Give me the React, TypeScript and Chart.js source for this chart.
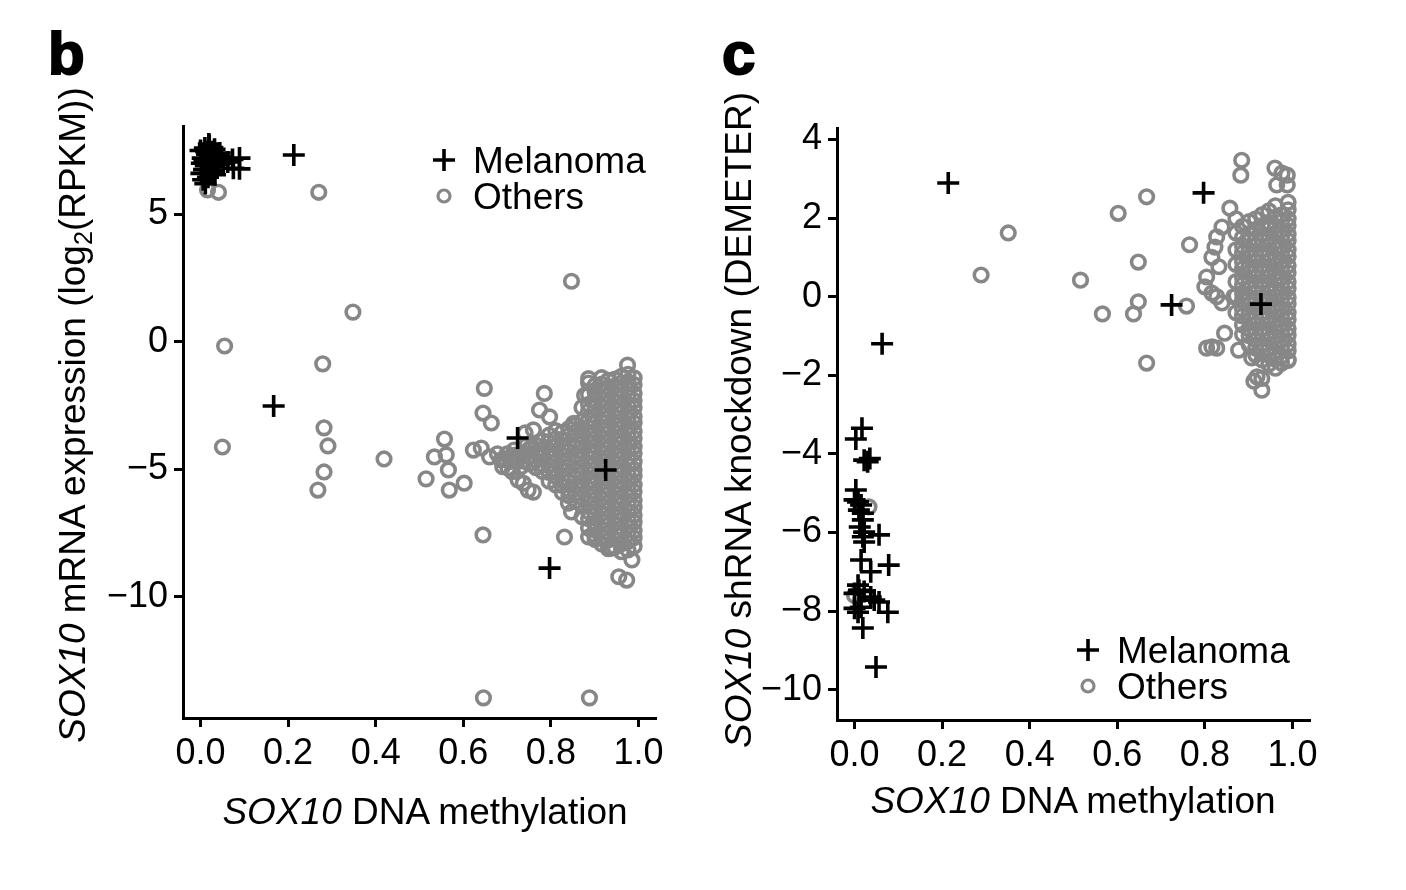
import React, { useEffect, useRef } from 'react';
import { Chart, registerables } from 'chart.js';

Chart.register(...registerables);

const FONT = '"Liberation Sans", Arial, Helvetica, sans-serif';
const BLACK = '#000000';
const GREY = '#878787';

// ---------- shared axis / legend data ----------
const seriesNames = ['Melanoma', 'Others'];
const xTicks = [0, 0.2, 0.4, 0.6, 0.8, 1.0];
const yTicksB = [5, 0, -5, -10];
const yTicksC = [4, 2, 0, -2, -4, -6, -8, -10];
const xRange = [-0.04, 1.04];
const yRangeB = [-14.76, 8.46];
const yRangeC = [-10.77, 4.29];

// ---------- panel b : SOX10 methylation vs mRNA expression ----------
const melanomaB: [number, number][] = [
  [0.000, 7.50], [0.005, 7.20], [0.010, 7.60], [0.012, 6.90], [0.015, 7.35], [0.018, 7.05],
  [0.020, 7.70], [0.022, 6.60], [0.008, 6.75], [0.003, 7.00], [0.025, 7.45], [0.028, 7.15],
  [0.030, 6.85], [0.032, 7.55], [0.035, 7.30], [0.038, 7.00], [0.013, 7.45], [0.017, 6.45],
  [0.006, 6.35], [0.011, 6.20], [0.027, 6.70], [0.040, 7.20], [0.044, 7.40], [0.042, 6.95],
  [0.023, 7.25], [0.019, 7.75], [0.002, 6.60], [0.033, 6.55], [0.009, 7.10], [0.016, 6.95],
  [0.048, 7.25], [0.052, 7.00], [0.062, 7.05], [0.073, 7.15], [0.089, 7.20], [0.089, 6.78],
  [0.075, 6.80],
  [0.213, 7.32], [0.167, -2.52], [0.724, -3.78], [0.925, -5.03], [0.797, -8.88],
];

const othersB: [number, number][] = [
  [0.016, 5.95], [0.041, 5.86], [0.270, 5.86], [0.847, 2.37], [0.348, 1.16], [0.055, -0.17],
  [0.050, -4.13], [0.279, -0.87], [0.282, -3.38], [0.291, -4.09], [0.282, -5.11], [0.268, -5.82],
  [0.419, -4.60], [0.515, -5.38], [0.534, -4.52], [0.557, -3.82], [0.561, -4.44], [0.566, -5.03],
  [0.602, -5.55], [0.568, -5.82], [0.648, -1.83], [0.645, -2.80], [0.664, -3.19], [0.785, -2.03],
  [0.774, -2.68], [0.797, -2.95], [0.760, -3.46], [0.623, -4.25], [0.641, -4.17], [0.660, -4.52],
  [0.686, -4.64], [0.702, -4.95], [0.716, -4.25], [0.725, -5.42], [0.737, -5.55], [0.748, -5.82],
  [0.760, -5.90], [0.741, -3.58], [0.757, -4.13], [0.769, -4.37], [0.700, -4.40], [0.690, -4.90],
  [0.712, -5.10], [0.745, -4.05], [0.645, -7.58], [0.831, -7.66], [0.847, -6.68], [0.840, -6.33],
  [0.886, -7.66], [0.900, -7.58], [0.938, -8.10], [0.985, -8.56], [0.955, -9.22], [0.973, -9.35],
  [0.646, -13.97], [0.888, -13.97], [0.975, -0.92], [0.886, -1.45], [0.877, -2.10], [0.852, -3.20],
  [0.728, -4.55], [0.708, -4.70], [0.695, -4.62], [0.678, -4.40], [0.732, -4.90], [0.718, -4.45],
];

// the dense grey mass of panel b, listed column by column: [methylation, expression values]
const othersBMass: [number, number[]][] = [
  [0.990, [-1.42, -1.68, -2.03, -2.31, -2.58, -2.93, -3.18, -3.52, -3.79, -4.12, -4.38, -4.71, -5.02, -5.27, -5.61, -5.88, -6.22, -6.49, -6.81, -7.08, -7.42, -7.69, -8.02]],
  [0.976, [-1.28, -1.57, -1.83, -2.16, -2.44, -2.77, -3.04, -3.36, -3.63, -3.97, -4.24, -4.56, -4.83, -5.16, -5.44, -5.77, -6.03, -6.36, -6.64, -6.97, -7.24, -7.56, -7.83, -8.17]],
  [0.961, [-1.36, -1.62, -1.91, -2.19, -2.52, -2.79, -3.11, -3.38, -3.72, -3.99, -4.31, -4.58, -4.92, -5.19, -5.51, -5.78, -6.12, -6.39, -6.71, -6.98, -7.31, -7.58, -7.92, -8.24]],
  [0.946, [-1.47, -1.73, -2.06, -2.33, -2.67, -2.94, -3.26, -3.53, -3.87, -4.14, -4.46, -4.73, -5.07, -5.34, -5.66, -5.93, -6.27, -6.54, -6.86, -7.13, -7.47, -7.74, -8.06]],
  [0.931, [-1.52, -1.79, -2.12, -2.39, -2.71, -2.98, -3.32, -3.59, -3.91, -4.18, -4.52, -4.79, -5.11, -5.38, -5.72, -5.99, -6.31, -6.58, -6.92, -7.19, -7.51, -7.78, -8.12]],
  [0.916, [-1.41, -1.66, -1.94, -2.27, -2.54, -2.86, -3.13, -3.47, -3.74, -4.06, -4.33, -4.67, -4.94, -5.26, -5.53, -5.87, -6.14, -6.46, -6.73, -7.07, -7.34, -7.66, -7.93]],
  [0.901, [-1.71, -1.98, -2.32, -2.59, -2.91, -3.18, -3.52, -3.79, -4.11, -4.38, -4.72, -4.99, -5.31, -5.58, -5.92, -6.19, -6.51, -6.78, -7.12, -7.39, -7.76]],
  [0.886, [-1.62, -2.08, -2.46, -2.73, -3.07, -3.34, -3.66, -3.93, -4.27, -4.54, -4.86, -5.13, -5.47, -5.74, -6.06, -6.33, -6.67, -6.94, -7.31]],
  [0.871, [-2.58, -3.12, -3.39, -3.72, -3.98, -4.32, -4.59, -4.91, -5.18, -5.52, -5.79, -6.11, -6.44, -6.86]],
  [0.856, [-3.27, -3.54, -3.87, -4.13, -4.47, -4.74, -5.06, -5.33, -5.67, -5.94, -6.26]],
  [0.841, [-3.41, -3.68, -4.02, -4.29, -4.61, -4.88, -5.22, -5.49, -5.81, -6.04]],
  [0.826, [-3.56, -3.83, -4.17, -4.44, -4.76, -5.03, -5.37, -5.64, -5.91]],
  [0.811, [-3.49, -3.81, -4.08, -4.42, -4.69, -5.01, -5.28, -5.62]],
  [0.796, [-3.66, -3.93, -4.27, -4.54, -4.86, -5.13, -5.47]],
  [0.781, [-3.89, -4.22, -4.49, -4.82, -5.09]],
  [0.766, [-4.06, -4.33, -4.66, -4.94]],
  [0.751, [-4.21, -4.52, -4.79]],
  [0.736, [-4.36, -4.68]],
  [0.721, [-4.51]],
];

// ---------- panel c : SOX10 methylation vs shRNA knockdown ----------
const melanomaC: [number, number][] = [
  [0.214, 2.89], [0.797, 2.64], [0.724, -0.21], [0.928, -0.19], [0.063, -1.20],
  [0.017, -3.35], [0.003, -3.62], [0.022, -4.16], [0.030, -4.20], [0.035, -4.12],
  [0.003, -4.92], [0.000, -5.17], [0.008, -5.22], [0.015, -5.30], [0.010, -5.43],
  [0.019, -5.51], [0.019, -5.68], [0.012, -5.86], [0.022, -5.99], [0.019, -6.11],
  [0.056, -6.06], [0.022, -6.24], [0.015, -6.70], [0.078, -6.83], [0.037, -7.00],
  [0.008, -7.34], [0.010, -7.47], [0.000, -7.55], [0.022, -7.50], [0.037, -7.64],
  [0.045, -7.72], [0.056, -7.77], [0.000, -7.93], [0.008, -8.03], [0.015, -7.90],
  [0.076, -8.03], [0.019, -8.43], [0.049, -9.42],
];

const othersC: [number, number][] = [
  [0.033, -5.35], [0.000, -7.60], [0.289, 0.55], [0.351, 1.62], [0.516, 0.42], [0.566, -0.44],
  [0.602, 2.12], [0.667, 2.54], [0.648, 0.88], [0.648, -0.13], [0.637, -0.44], [0.667, -1.69],
  [0.765, 1.32], [0.758, -0.24], [0.884, 3.47], [0.882, 3.09], [0.960, 3.27], [0.976, 3.14],
  [0.988, 3.09], [0.964, 2.84], [0.988, 2.84], [0.990, 2.40], [0.857, 2.25], [0.839, 1.77],
  [0.827, 1.52], [0.823, 1.26], [0.816, 1.00], [0.832, 0.76], [0.804, 0.50], [0.800, 0.25],
  [0.816, 0.09], [0.827, 0.00], [0.839, -0.16], [0.866, 0.00], [0.845, -0.93], [0.816, -1.28],
  [0.804, -1.31], [0.827, -1.31], [0.877, -1.36], [0.907, -1.56], [0.990, -1.61], [0.919, -2.04],
  [0.930, -2.08], [0.930, -2.38], [0.912, -2.15],
];

// the dense grey mass of panel c, column by column: [methylation, knockdown values]
const othersCMass: [number, number[]][] = [
  [0.990, [2.21, 1.98, 1.81, 1.59, 1.42, 1.19, 1.02, 0.79, 0.61, 0.38, 0.21, -0.02, -0.19, -0.41, -0.58, -0.81, -0.98, -1.21, -1.38, -1.62]],
  [0.975, [2.08, 1.91, 1.69, 1.52, 1.28, 1.11, 0.89, 0.72, 0.48, 0.31, 0.09, -0.08, -0.31, -0.48, -0.71, -0.88, -1.11, -1.28, -1.52, -1.69]],
  [0.961, [2.31, 2.02, 1.79, 1.61, 1.39, 1.22, 0.98, 0.81, 0.59, 0.42, 0.18, 0.01, -0.22, -0.39, -0.62, -0.79, -1.02, -1.19, -1.42, -1.59, -1.82]],
  [0.946, [2.18, 1.89, 1.72, 1.49, 1.32, 1.08, 0.91, 0.68, 0.51, 0.29, 0.12, -0.11, -0.28, -0.52, -0.69, -0.92, -1.09, -1.32, -1.49, -1.72]],
  [0.931, [2.09, 1.81, 1.58, 1.41, 1.18, 1.01, 0.78, 0.61, 0.38, 0.21, -0.02, -0.19, -0.42, -0.59, -0.82, -0.99, -1.22, -1.39, -1.61]],
  [0.916, [1.98, 1.71, 1.48, 1.31, 1.08, 0.91, 0.68, 0.51, 0.28, 0.11, -0.12, -0.29, -0.52, -0.69, -0.92, -1.09, -1.31, -1.48]],
  [0.901, [1.91, 1.59, 1.41, 1.18, 1.01, 0.78, 0.61, 0.38, 0.21, -0.02, -0.19, -0.42, -0.59, -0.82, -0.99, -1.22]],
  [0.886, [1.79, 1.51, 1.28, 1.11, 0.88, 0.71, 0.48, 0.31, 0.08, -0.09, -0.32, -0.49, -0.72, -0.96]],
  [0.871, [1.98, 1.62, 1.19, 0.82, 0.38, 0.02, -0.41]],
];

type Pair = [number, number];
const toPoints = (pairs: Pair[]) => pairs.map(([x, y]) => ({ x, y }));
const massToPoints = (cols: [number, number[]][]) =>
  cols.flatMap(([x, ys]) => ys.map((y) => ({ x, y })));

const CANVAS_W = 703;
const CANVAS_H = 890;

type Area = { left: number; right: number; top: number; bottom: number };

interface PanelProps {
  offsetLeft: number;
  area: Area;
  melanoma: Pair[];
  others: Pair[];
  mass: [number, number[]][];
  yRange: number[];
  yTicks: number[];
  legendAt: [number, number];
}

const fmtY = (v: number) => (v < 0 ? '\u2212' + Math.abs(v) : String(v));

const CROSS_R = 11;
const CROSS_W = 3.6;
const RING_R = 6.8;
const RING_W = 3.6;

function ScatterPanel({ offsetLeft, area, melanoma, others, mass, yRange, yTicks, legendAt }: PanelProps) {
  const ref = useRef<HTMLCanvasElement | null>(null);

  useEffect(() => {
    if (!ref.current) return;
    const [lx, ly] = legendAt;
    const legendPlugin = {
      id: 'panelLegend',
      afterDraw(chart: any) {
        const ctx = chart.ctx as CanvasRenderingContext2D;
        ctx.save();
        ctx.strokeStyle = BLACK;
        ctx.lineWidth = CROSS_W;
        ctx.beginPath();
        ctx.moveTo(lx - CROSS_R, ly);
        ctx.lineTo(lx + CROSS_R, ly);
        ctx.moveTo(lx, ly - CROSS_R);
        ctx.lineTo(lx, ly + CROSS_R);
        ctx.stroke();
        ctx.strokeStyle = GREY;
        ctx.lineWidth = 3.2;
        ctx.beginPath();
        ctx.arc(lx, ly + 36, 6, 0, Math.PI * 2);
        ctx.stroke();
        ctx.fillStyle = BLACK;
        ctx.font = `37px ${FONT}`;
        ctx.textAlign = 'left';
        ctx.textBaseline = 'alphabetic';
        ctx.fillText(seriesNames[0], lx + 29, ly + 13);
        ctx.fillText(seriesNames[1], lx + 29, ly + 49);
        ctx.restore();
      },
    };

    const tickFont = { family: FONT, size: 36 };
    const chart = new Chart(ref.current, {
      type: 'scatter',
      data: {
        datasets: [
          {
            label: seriesNames[0],
            data: toPoints(melanoma),
            pointStyle: 'cross',
            pointRadius: CROSS_R,
            pointHoverRadius: CROSS_R,
            pointBorderWidth: CROSS_W,
            borderColor: BLACK,
            backgroundColor: BLACK,
          },
          {
            label: seriesNames[1],
            data: [...massToPoints(mass), ...toPoints(others)],
            pointStyle: 'circle',
            pointRadius: RING_R,
            pointHoverRadius: RING_R,
            pointBorderWidth: RING_W,
            borderColor: GREY,
            backgroundColor: 'rgba(0,0,0,0)',
          },
        ],
      },
      options: {
        animation: false,
        responsive: true,
        maintainAspectRatio: false,
        events: [],
        layout: { padding: { left: 0, top: area.top, right: CANVAS_W - area.right, bottom: 0 } },
        plugins: { legend: { display: false }, tooltip: { enabled: false } },
        scales: {
          x: {
            type: 'linear',
            min: xRange[0],
            max: xRange[1],
            afterBuildTicks: (s: any) => {
              s.ticks = xTicks.map((v) => ({ value: v }));
            },
            afterFit: (s: any) => {
              s.height = CANVAS_H - area.bottom;
            },
            border: { display: true, color: BLACK, width: 3 },
            grid: { display: true, drawOnChartArea: false, drawTicks: true, tickLength: 9, tickWidth: 3, tickColor: BLACK },
            ticks: {
              color: BLACK,
              font: tickFont,
              padding: 5,
              maxRotation: 0,
              autoSkip: false,
              callback: (v: any) => Number(v).toFixed(1),
            },
          },
          y: {
            type: 'linear',
            min: yRange[0],
            max: yRange[1],
            afterBuildTicks: (s: any) => {
              s.ticks = yTicks.map((v) => ({ value: v }));
            },
            afterFit: (s: any) => {
              s.width = area.left;
            },
            border: { display: true, color: BLACK, width: 3 },
            grid: { display: true, drawOnChartArea: false, drawTicks: true, tickLength: 9, tickWidth: 3, tickColor: BLACK },
            ticks: {
              color: BLACK,
              font: tickFont,
              padding: 6,
              autoSkip: false,
              callback: (v: any) => fmtY(Number(v)),
            },
          },
        },
      },
      plugins: [legendPlugin],
    } as any);
    return () => chart.destroy();
  }, []);

  return (
    <div style={{ position: 'absolute', left: offsetLeft, top: 0, width: CANVAS_W, height: CANVAS_H }}>
      <canvas ref={ref} />
    </div>
  );
}

const textBase: React.CSSProperties = {
  position: 'absolute',
  fontFamily: FONT,
  color: BLACK,
  whiteSpace: 'nowrap',
  lineHeight: 1,
};

function Title({ x, y, rotate, size, children }: { x: number; y: number; rotate?: boolean; size: number; children: React.ReactNode }) {
  return (
    <div
      style={{
        ...textBase,
        left: x,
        top: y,
        fontSize: size,
        transform: `translate(-50%, -50%)${rotate ? ' rotate(-90deg)' : ''}`,
      }}
    >
      {children}
    </div>
  );
}

const sub: React.CSSProperties = { fontSize: '0.68em', verticalAlign: '-0.28em', lineHeight: 0 };
const letter: React.CSSProperties = { ...textBase, fontSize: 60, fontWeight: 900, WebkitTextStroke: '2px #000', top: 24 };

export default function App() {
  return (
    <div style={{ position: 'absolute', left: 0, top: 0, width: 1406, height: 890, background: '#fff', overflow: 'hidden' }}>
      <ScatterPanel
        offsetLeft={0}
        area={{ left: 183, right: 656, top: 126, bottom: 718 }}
        melanoma={melanomaB}
        others={othersB}
        mass={othersBMass}
        yRange={yRangeB}
        yTicks={yTicksB}
        legendAt={[444, 160]}
      />
      <ScatterPanel
        offsetLeft={703}
        area={{ left: 134, right: 607, top: 128, bottom: 720 }}
        melanoma={melanomaC}
        others={othersC}
        mass={othersCMass}
        yRange={yRangeC}
        yTicks={yTicksC}
        legendAt={[385, 650]}
      />
      <div style={{ ...letter, left: 48 }}>b</div>
      <div style={{ ...letter, left: 722 }}>c</div>
      <Title x={72} y={415} rotate size={37}>
        <i>SOX10</i> mRNA expression (log<span style={sub}>2</span>(RPKM))
      </Title>
      <Title x={425} y={811} size={37}>
        <i>SOX10</i> DNA methylation
      </Title>
      <Title x={738} y={420} rotate size={37}>
        <i>SOX10</i> shRNA knockdown (DEMETER)
      </Title>
      <Title x={1073} y={800} size={37}>
        <i>SOX10</i> DNA methylation
      </Title>
    </div>
  );
}
